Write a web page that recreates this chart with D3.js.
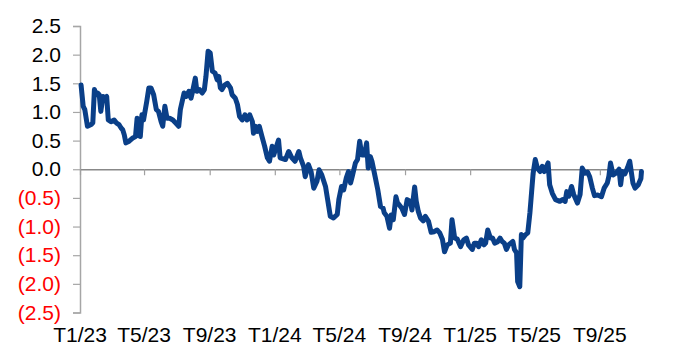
<!DOCTYPE html>
<html>
<head>
<meta charset="utf-8">
<script src="https://cdn.jsdelivr.net/npm/d3@7"></script>
<style>
  html, body { margin: 0; padding: 0; background: #fff; }
  svg { display: block; font-family: "Liberation Sans", Arial, sans-serif; }
</style>
</head>
<body>
<svg id="chart" width="692" height="345"></svg>
<script>
// ---- Data ----
const dates = [
 "2023-01-03","2023-01-07","2023-01-10","2023-01-15","2023-01-22","2023-01-25","2023-01-28","2023-01-31",
 "2023-02-03","2023-02-06","2023-02-09","2023-02-13","2023-02-16","2023-02-20","2023-02-23","2023-02-28",
 "2023-03-06","2023-03-10","2023-03-15","2023-03-19","2023-03-22","2023-03-25","2023-03-28",
 "2023-04-03","2023-04-09","2023-04-15","2023-04-18","2023-04-21","2023-04-24","2023-04-27","2023-04-30",
 "2023-05-06","2023-05-10","2023-05-14","2023-05-19","2023-05-24","2023-05-28",
 "2023-06-02","2023-06-05","2023-06-09","2023-06-13","2023-06-18","2023-06-24","2023-06-29",
 "2023-07-05","2023-07-08","2023-07-15","2023-07-19","2023-07-24","2023-07-28","2023-07-31",
 "2023-08-05","2023-08-08","2023-08-13","2023-08-18","2023-08-22","2023-08-25","2023-08-29",
 "2023-09-02","2023-09-06","2023-09-11","2023-09-15","2023-09-18","2023-09-21","2023-09-24","2023-09-29",
 "2023-10-04","2023-10-10","2023-10-13","2023-10-19","2023-10-23","2023-10-27",
 "2023-11-01","2023-11-06","2023-11-10","2023-11-15","2023-11-20","2023-11-22","2023-11-26","2023-11-29",
 "2023-12-03","2023-12-08","2023-12-13","2023-12-18","2023-12-22","2023-12-27","2023-12-30",
 "2024-01-08","2024-01-11","2024-01-21","2024-01-27",
 "2024-02-02","2024-02-08","2024-02-15","2024-02-18","2024-02-24","2024-02-27",
 "2024-03-04","2024-03-09","2024-03-14","2024-03-20","2024-03-24","2024-03-29",
 "2024-04-05","2024-04-09","2024-04-14","2024-04-20","2024-04-27","2024-04-30",
 "2024-05-05","2024-05-09","2024-05-14","2024-05-18","2024-05-22","2024-05-25","2024-05-31",
 "2024-06-04","2024-06-08","2024-06-12","2024-06-17","2024-06-21","2024-06-24","2024-06-28",
 "2024-07-01","2024-07-07","2024-07-12","2024-07-17","2024-07-22","2024-07-24","2024-07-29",
 "2024-08-03","2024-08-06","2024-08-10","2024-08-15","2024-08-18","2024-08-21","2024-08-26","2024-08-31",
 "2024-09-05","2024-09-11","2024-09-14","2024-09-19","2024-09-22","2024-09-26","2024-09-30",
 "2024-10-05","2024-10-09","2024-10-15","2024-10-20","2024-10-25","2024-10-31",
 "2024-11-05","2024-11-10","2024-11-14","2024-11-19","2024-11-25","2024-11-28",
 "2024-12-03","2024-12-08","2024-12-14","2024-12-20","2024-12-25","2024-12-29",
 "2025-01-05","2025-01-09","2025-01-13","2025-01-17","2025-01-22","2025-01-27","2025-01-30",
 "2025-02-03","2025-02-08","2025-02-12","2025-02-16","2025-02-21","2025-02-26",
 "2025-03-02","2025-03-06","2025-03-10","2025-03-14","2025-03-18","2025-03-22","2025-03-25","2025-03-29","2025-03-31",
 "2025-04-04","2025-04-07","2025-04-10","2025-04-15","2025-04-19","2025-04-23","2025-04-25","2025-04-29",
 "2025-05-03","2025-05-07","2025-05-12","2025-05-16","2025-05-20","2025-05-27","2025-05-30",
 "2025-06-04","2025-06-10","2025-06-18","2025-06-23","2025-06-28",
 "2025-07-01","2025-07-05","2025-07-10","2025-07-14","2025-07-21","2025-07-26","2025-07-30",
 "2025-08-04","2025-08-09","2025-08-13","2025-08-18","2025-08-22","2025-08-28",
 "2025-09-04","2025-09-09","2025-09-15","2025-09-18","2025-09-21","2025-09-26",
 "2025-10-01","2025-10-07","2025-10-10","2025-10-13","2025-10-18","2025-10-23","2025-10-27",
 "2025-11-02","2025-11-06","2025-11-12","2025-11-17","2025-11-18"
];
const values = [
 1.47,1.10,1.04,0.75,0.78,0.81,1.39,1.30,
 1.33,1.30,1.01,1.27,1.24,1.27,0.86,0.83,
 0.86,0.81,0.78,0.72,0.69,0.60,0.46,
 0.49,0.54,0.57,0.89,0.86,0.57,0.95,0.86,
 1.18,1.42,1.42,1.30,1.04,1.01,
 0.83,0.75,1.10,0.89,0.89,0.86,0.81,
 0.75,1.04,1.33,1.27,1.36,1.24,1.36,
 1.59,1.36,1.39,1.33,1.39,1.62,2.06,
 2.03,1.71,1.68,1.56,1.62,1.42,1.39,1.47,
 1.50,1.42,1.30,1.24,1.13,0.92,
 0.86,0.95,0.86,0.95,0.83,0.63,0.75,0.66,
 0.75,0.57,0.40,0.20,0.14,0.40,0.25,
 0.51,0.20,0.17,0.31,
 0.20,0.14,0.31,0.20,0.05,-0.13,
 0.08,-0.04,-0.33,-0.21,-0.01,-0.10,
 -0.30,-0.53,-0.82,-0.85,-0.79,-0.53,
 -0.30,-0.36,-0.15,-0.04,-0.24,-0.13,0.11,
 0.17,0.49,0.25,0.25,0.46,0.02,0.22,
 0.14,-0.13,-0.36,-0.65,-0.68,-0.76,-0.82,
 -1.03,-0.80,-0.88,-0.48,-0.59,-0.62,-0.68,-0.79,
 -0.53,-0.56,-0.71,-0.31,-0.56,-0.74,-0.85,
 -0.90,-0.82,-0.91,-1.10,-1.09,-1.06,
 -1.11,-1.22,-1.44,-1.32,-1.29,-0.88,
 -1.20,-1.22,-1.35,-1.23,-1.20,-1.32,
 -1.40,-1.29,-1.29,-1.35,-1.23,-1.32,-1.29,
 -1.06,-1.20,-1.20,-1.29,-1.27,-1.20,
 -1.26,-1.29,-1.40,-1.32,-1.29,-1.26,-1.40,-1.46,-1.96,
 -2.05,-1.14,-1.20,-1.14,-1.11,-0.76,-0.53,-0.07,
 0.17,0.02,-0.04,0.05,-0.04,0.11,-0.27,
 -0.42,-0.53,-0.56,-0.53,-0.56,
 -0.39,-0.47,-0.30,-0.44,-0.59,-0.44,0.02,
 -0.07,-0.05,-0.13,-0.33,-0.46,-0.45,
 -0.48,-0.33,-0.24,-0.12,0.11,-0.10,
 -0.07,0.00,-0.27,-0.04,-0.08,0.03,0.14,
 -0.24,-0.33,-0.27,-0.16,-0.04
];
const yTickValues = [-2.5,-2.0,-1.5,-1.0,-0.5,0,0.5,1.0,1.5,2.0,2.5];
const xTickDates = ["2023-01-01","2023-05-01","2023-09-01","2024-01-01","2024-05-01","2024-09-01","2025-01-01","2025-05-01","2025-09-01"];
const xTickLabels = ["T1/23","T5/23","T9/23","T1/24","T5/24","T9/24","T1/25","T5/25","T9/25"];
const domainDates = ["2023-01-01","2025-11-19"];

// ---- Chart ----
const parse = d3.utcParse("%Y-%m-%d");
const data = dates.map((d, i) => ({ date: parse(d), value: values[i] }));

const svg = d3.select("#chart");
const x = d3.scaleUtc().domain(domainDates.map(parse)).range([80, 642]);
const y = d3.scaleLinear().domain([-2.5, 2.5]).range([312.5, 26]);

// Y axis
const yAxis = svg.append("g").attr("transform", "translate(80,0)")
  .call(d3.axisLeft(y).tickValues(yTickValues).tickSize(7).tickPadding(12)
    .tickFormat(v => v < 0 ? "(" + d3.format(".1f")(-v) + ")" : d3.format(".1f")(v)));
yAxis.select(".domain").attr("stroke", "#a6a6a6").attr("stroke-width", 1.5);
yAxis.selectAll(".tick line").attr("stroke", "#a6a6a6").attr("stroke-width", 1.2);
yAxis.selectAll(".tick text")
  .attr("font-size", 21)
  .attr("font-family", "Liberation Sans, Arial, sans-serif")
  .attr("fill", v => v < 0 ? "#ff0000" : "#000");

// X axis at zero
const xAxis = svg.append("g").attr("transform", `translate(0,${y(0)})`)
  .call(d3.axisBottom(x).tickValues(xTickDates.map(parse)).tickSize(6).tickSizeOuter(0)
    .tickFormat((d, i) => ""));
xAxis.select(".domain").attr("stroke", "#888").attr("stroke-width", 1.3);
xAxis.selectAll(".tick line").attr("stroke", "#a0a0a0").attr("stroke-width", 1.2);

// X labels at the bottom
svg.append("g").selectAll("text").data(xTickDates).join("text")
  .attr("x", d => x(parse(d)))
  .attr("y", 342)
  .attr("text-anchor", "middle")
  .attr("font-size", 21)
  .attr("fill", "#000")
  .text((d, i) => xTickLabels[i]);

// Line
const line = d3.line().x(d => x(d.date)).y(d => y(d.value)).curve(d3.curveLinear);
svg.append("path").datum(data)
  .attr("fill", "none")
  .attr("stroke", "#0a3f88")
  .attr("stroke-width", 5)
  .attr("stroke-linejoin", "round")
  .attr("stroke-linecap", "round")
  .attr("d", line);
</script>
</body>
</html>
